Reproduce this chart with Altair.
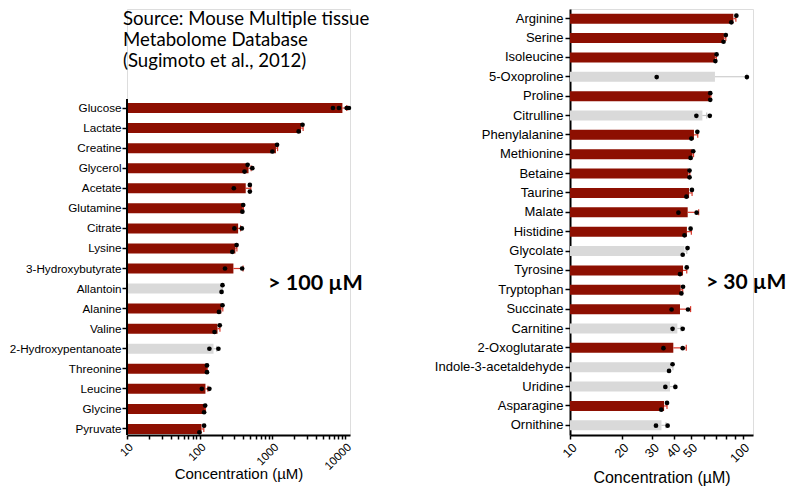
import altair as alt
import pandas as pd

# ---------------- data ----------------
left_names = ["Glucose", "Lactate", "Creatine", "Glycerol", "Acetate", "Glutamine",
              "Citrate", "Lysine", "3-Hydroxybutyrate", "Allantoin", "Alanine", "Valine",
              "2-Hydroxypentanoate", "Threonine", "Leucine", "Glycine", "Pyruvate"]
left_means = [9200, 2480, 1120, 470, 430, 392, 338, 310, 291, 202, 199, 176, 155, 126, 120, 118, 106]
left_err_hi = [10600, 2650, 1180, 510, 505, 400, 365, 325, 395, 205, 208, 190, 172, 127, 130, 120, 114]
left_detected = [1, 1, 1, 1, 1, 1, 1, 1, 1, 0, 1, 1, 0, 1, 1, 1, 1]
# individual samples: (value, row) with row 0 = upper, 1 = middle, 2 = lower
left_dots = [
    [(6820, 1), (8240, 1), (10520, 1), (11300, 1)],
    [(2600, 0), (2300, 2)],
    [(1160, 0), (1000, 2)],
    [(457, 0), (530, 1), (414, 2)],
    [(490, 0), (295, 1), (490, 2)],
    [(397, 0), (387, 2)],
    [(300, 1), (380, 1)],
    [(322, 0), (281, 2)],
    [(223, 1), (384, 1)],
    [(206, 0), (200, 2)],
    [(206, 0), (184, 2)],
    [(189, 0), (160, 2)],
    [(136, 1), (181, 1)],
    [(126, 0), (126, 2)],
    [(107, 1), (136, 1)],
    [(119, 0), (115, 2)],
    [(115, 0), (99, 2)],
]

right_names = ["Arginine", "Serine", "Isoleucine", "5-Oxoproline", "Proline", "Citrulline",
               "Phenylalanine", "Methionine", "Betaine", "Taurine", "Malate", "Histidine",
               "Glycolate", "Tyrosine", "Tryptophan", "Succinate", "Carnitine", "2-Oxoglutarate",
               "Indole-3-acetaldehyde", "Uridine", "Asparagine", "Ornithine"]
right_means = [88.5, 78, 69.2, 69.2, 65, 58.5, 52.3, 51.2, 48.5, 49.0, 48.1, 47.6,
               46.0, 45.2, 43.8, 43.4, 41.9, 39.7, 38.5, 38.0, 35.1, 33.9]
right_err_hi = [91.5, 80, 70.5, 106, 65.5, 62, 55, 52, 49.5, 51, 55.7, 50.5,
                47.5, 47.5, 45, 50, 44, 47.2, 39.5, 40.5, 36.5, 36]
right_detected = [1, 1, 1, 0, 1, 0, 1, 1, 1, 1, 1, 1, 0, 1, 1, 1, 0, 1, 0, 0, 1, 0]
right_dots = [
    [(92.1, 0), (86.1, 2)],
    [(80, 0), (77.6, 2)],
    [(70.7, 0), (69.6, 2)],
    [(31.8, 1), (106, 1)],
    [(65, 0), (65, 2)],
    [(54, 1), (64.6, 1)],
    [(54.7, 0), (50.5, 2)],
    [(51.8, 0), (50.0, 2)],
    [(49.3, 0), (49.3, 2)],
    [(50.9, 0), (47.3, 2)],
    [(42.5, 1), (54.2, 1)],
    [(50.0, 0), (46.1, 2)],
    [(48.0, 0), (45.0, 2)],
    [(47.5, 0), (43.4, 2)],
    [(45.2, 0), (44.2, 2)],
    [(38.8, 1), (48.3, 1)],
    [(39.3, 1), (45.0, 1)],
    [(34.8, 1), (45.0, 1)],
    [(39.3, 0), (37.5, 2)],
    [(35.7, 1), (40.8, 1)],
    [(36.5, 0), (33.8, 2)],
    [(31.5, 1), (36.8, 1)],
]

left_ticks = [10, 20, 30, 40, 50, 60, 70, 80, 90, 100, 200, 300, 400, 500, 600, 700, 800, 900,
              1000, 2000, 3000, 4000, 5000, 6000, 7000, 8000, 9000, 10000]
left_labels = [10, 100, 1000, 10000]
right_ticks = [10, 20, 30, 40, 50, 60, 70, 80, 90, 100]
right_labels = [10, 20, 30, 40, 50, 100]

source_lines = ["Source: Mouse Multiple tissue", "Metabolome Database", "(Sugimoto et al., 2012)"]

RED = "#8d0f01"
GRAY = "#d9d9d9"
ERR_RED = "#d8392c"
ERR_GRAY = "#c4c4c4"
ROWS = ["p0", "r0", "r1", "r2", "p1"]
ROW_NAMES = ["r0", "r1", "r2"]


def build_tables(names, means, err, detected, dots, lo):
    bars = pd.DataFrame({
        "name": names,
        "mean": means,
        "err": err,
        "lo": [lo] * len(names),
        "barcol": [RED if d else GRAY for d in detected],
        "errcol": [ERR_RED if d else ERR_GRAY for d in detected],
    })
    recs = []
    for n, ds in zip(names, dots):
        for v, r in ds:
            recs.append({"name": n, "value": v, "row": ROW_NAMES[r]})
    return bars, pd.DataFrame(recs)


def text_layer(txt, x, y, size, weight="normal", baseline="middle"):
    return alt.Chart(pd.DataFrame({"t": [txt]})).mark_text(
        align="left", baseline=baseline, font="Lato", fontSize=size, fontWeight=weight,
        color="black"
    ).encode(text="t:N", x=alt.value(x), y=alt.value(y))


def panel(names, means, err, detected, dots, domain, ticks, labels, width, height,
          y_range, lab_size, lab_pad, xlab_size, title_size, title_pad, note, note_x, note_y,
          note_size, domain_top=None, extra=()):
    bars, pts = build_tables(names, means, err, detected, dots, domain[0])
    label_test = " || ".join(f"datum.value == {v}" for v in labels)
    xscale = alt.Scale(type="log", domain=domain, nice=False, clamp=False)
    yscale = alt.Scale(range=y_range, paddingInner=0, paddingOuter=0)
    x_axis = alt.Axis(values=ticks, labelExpr=f"({label_test}) ? format(datum.value, 'd') : ''",
                      labelAngle=315, labelFont="Liberation Sans", labelFontSize=xlab_size,
                      labelColor="black", tickSize=4, tickColor="black", tickWidth=1.5,
                      domainColor="black", domainWidth=2, grid=False,
                      title="Concentration (µM)", titleFont="Liberation Sans",
                      titleFontSize=title_size, titleFontWeight="normal", titleColor="black",
                      titlePadding=title_pad, labelPadding=2, labelOverlap=False)
    y_axis = alt.Axis(title=None, labelFont="Liberation Sans", labelFontSize=lab_size,
                      labelColor="black", tickSize=5, tickColor="black", tickWidth=1.5,
                      domain=domain_top is None, domainColor="black", domainWidth=2,
                      labelPadding=lab_pad, labelLimit=200, grid=False)
    y = alt.Y("name:N", sort=names, scale=yscale, axis=y_axis)

    base_bars = alt.Chart(bars)
    bar = base_bars.mark_bar(height=10).encode(
        y=y,
        x=alt.X("mean:Q", scale=xscale, axis=x_axis),
        x2="lo:Q",
        color=alt.Color("barcol:N", scale=None),
    )
    err_line = base_bars.mark_rule(strokeWidth=1.2).encode(
        y=alt.Y("name:N", sort=names),
        x=alt.X("mean:Q"),
        x2="err:Q",
        color=alt.Color("errcol:N", scale=None),
    )
    err_cap = base_bars.mark_point(shape="M0,-1L0,1", size=36, filled=False,
                                   strokeWidth=1.2, opacity=1).encode(
        y=alt.Y("name:N", sort=names),
        x=alt.X("err:Q"),
        color=alt.Color("errcol:N", scale=None),
    )
    dots_layer = alt.Chart(pts).mark_circle(size=22, color="black", opacity=1).encode(
        y=alt.Y("name:N", sort=names),
        yOffset=alt.YOffset("row:N", scale=alt.Scale(domain=ROWS, paddingInner=0,
                                                       paddingOuter=1)),
        x=alt.X("value:Q"),
    )
    note_layer = text_layer(note, note_x, note_y, note_size, weight="bold")

    layers = [bar, err_line, err_cap, dots_layer, note_layer, *extra]
    if domain_top is not None:
        axis_line = alt.Chart(pd.DataFrame({"a": [0]})).mark_rule(
            color="black", strokeWidth=2
        ).encode(x=alt.value(0), y=alt.value(domain_top), y2=alt.value(height))
        layers.append(axis_line)
    return alt.layer(*layers).properties(width=width, height=height)


source_layers = [text_layer(line, -4, 1 + 21 * i, 18.6, baseline="top")
                 for i, line in enumerate(source_lines)]

left = panel(left_names, left_means, left_err_hi, left_detected, left_dots,
             [10, 11700], left_ticks, left_labels, 223, 426, [89, 430],
             11.7, 1, 11.5, 15, -5, "> 100 µM", 141, 275, 21.5, domain_top=90,
             extra=source_layers)

right = panel(right_names, right_means, right_err_hi, right_detected, right_dots,
              [10, 115], right_ticks, right_labels, 183, 426, [0, 426],
              13, 2, 12.5, 16, 5, "> 30 µM", 136, 274, 21)

chart = alt.hconcat(
    left, right, spacing=63,
    padding={"left": 0, "top": 0, "right": 0, "bottom": 0},
).configure_view(stroke="transparent", strokeWidth=0).configure(background="white")

chart.save("out.html", embed_options={"renderer": "svg", "actions": False})
